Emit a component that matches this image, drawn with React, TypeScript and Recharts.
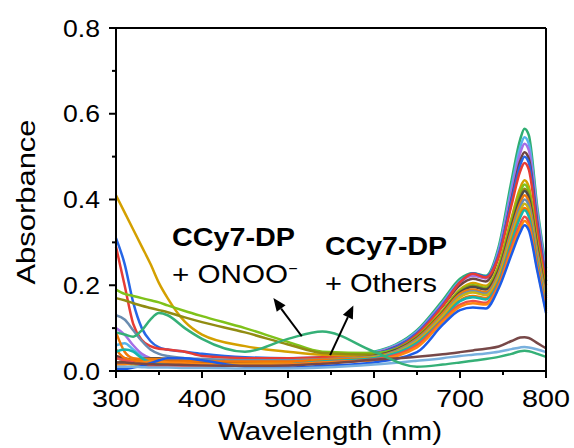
import React from 'react';
import { LineChart, Line, XAxis, YAxis, ReferenceLine } from 'recharts';

// wavelengths (nm) shared by every spectrum
const wavelengths = [300, 310, 320, 330, 340, 350, 360, 380, 400, 450, 500, 540, 600, 650, 680, 700, 715, 730, 745, 760, 770, 775, 780, 790, 800];

// CCy7-DP + others (strong NIR band)
const specGreen = [0.03, 0.025, 0.02, 0.018, 0.016, 0.015, 0.015, 0.016, 0.018, 0.02, 0.025, 0.03, 0.045, 0.095, 0.165, 0.215, 0.228, 0.222, 0.29, 0.445, 0.54, 0.565, 0.55, 0.38, 0.24];
const specSky = [0.06, 0.065, 0.05, 0.035, 0.028, 0.025, 0.022, 0.02, 0.02, 0.022, 0.026, 0.03, 0.043, 0.092, 0.16, 0.21, 0.224, 0.218, 0.283, 0.43, 0.522, 0.545, 0.53, 0.37, 0.23];
const specPurple = [0.1, 0.085, 0.06, 0.04, 0.03, 0.025, 0.022, 0.02, 0.02, 0.02, 0.024, 0.028, 0.042, 0.09, 0.158, 0.207, 0.222, 0.216, 0.278, 0.418, 0.508, 0.53, 0.515, 0.36, 0.22];
const specBrown = [0.035, 0.03, 0.025, 0.02, 0.02, 0.022, 0.025, 0.022, 0.02, 0.018, 0.022, 0.028, 0.04, 0.087, 0.152, 0.2, 0.215, 0.209, 0.268, 0.402, 0.49, 0.51, 0.495, 0.345, 0.21];
const specBlue = [0.31, 0.25, 0.16, 0.1, 0.07, 0.055, 0.05, 0.045, 0.04, 0.032, 0.03, 0.032, 0.04, 0.088, 0.155, 0.207, 0.228, 0.22, 0.272, 0.398, 0.48, 0.5, 0.486, 0.34, 0.21];
const specRed = [0.29, 0.2, 0.11, 0.072, 0.058, 0.052, 0.05, 0.045, 0.035, 0.03, 0.03, 0.032, 0.038, 0.085, 0.152, 0.207, 0.227, 0.218, 0.267, 0.388, 0.466, 0.485, 0.47, 0.33, 0.2];
const specGold = [0.41, 0.37, 0.33, 0.29, 0.25, 0.205, 0.17, 0.115, 0.085, 0.058, 0.045, 0.038, 0.036, 0.08, 0.142, 0.19, 0.205, 0.199, 0.248, 0.358, 0.427, 0.445, 0.43, 0.3, 0.19];
const specLime = [0.19, 0.18, 0.175, 0.17, 0.165, 0.16, 0.153, 0.14, 0.128, 0.1, 0.068, 0.045, 0.042, 0.08, 0.14, 0.188, 0.2, 0.194, 0.243, 0.35, 0.417, 0.435, 0.42, 0.295, 0.185];
const specOlive = [0.17, 0.165, 0.158, 0.152, 0.147, 0.142, 0.137, 0.125, 0.114, 0.09, 0.062, 0.042, 0.038, 0.078, 0.138, 0.185, 0.198, 0.192, 0.238, 0.342, 0.407, 0.425, 0.41, 0.29, 0.18];
const specGray = [0.02, 0.022, 0.025, 0.028, 0.03, 0.03, 0.028, 0.025, 0.022, 0.02, 0.02, 0.025, 0.035, 0.077, 0.137, 0.183, 0.196, 0.19, 0.235, 0.338, 0.402, 0.42, 0.405, 0.285, 0.175];
const specOrange = [0.09, 0.045, 0.03, 0.028, 0.028, 0.028, 0.028, 0.027, 0.026, 0.025, 0.025, 0.028, 0.034, 0.075, 0.135, 0.18, 0.19, 0.184, 0.23, 0.33, 0.392, 0.41, 0.395, 0.278, 0.17];
const specSteel = [0.13, 0.12, 0.095, 0.07, 0.05, 0.04, 0.035, 0.03, 0.028, 0.025, 0.025, 0.027, 0.033, 0.073, 0.13, 0.175, 0.186, 0.18, 0.225, 0.322, 0.382, 0.4, 0.386, 0.27, 0.165];
const specMustard = [0.02, 0.018, 0.015, 0.013, 0.012, 0.012, 0.013, 0.014, 0.015, 0.017, 0.02, 0.025, 0.032, 0.07, 0.128, 0.172, 0.183, 0.177, 0.22, 0.315, 0.373, 0.39, 0.376, 0.262, 0.16];
const specAmber = [0.05, 0.03, 0.025, 0.023, 0.022, 0.022, 0.022, 0.022, 0.022, 0.022, 0.022, 0.026, 0.03, 0.066, 0.122, 0.165, 0.175, 0.17, 0.212, 0.305, 0.363, 0.38, 0.366, 0.255, 0.155];
const specTeal = [0.045, 0.05, 0.045, 0.03, 0.02, 0.015, 0.013, 0.012, 0.012, 0.012, 0.015, 0.022, 0.03, 0.065, 0.12, 0.163, 0.172, 0.167, 0.208, 0.3, 0.358, 0.375, 0.36, 0.25, 0.15];
const specSalmon = [0.03, 0.025, 0.02, 0.015, 0.012, 0.012, 0.012, 0.012, 0.012, 0.012, 0.015, 0.02, 0.027, 0.06, 0.118, 0.155, 0.163, 0.159, 0.202, 0.29, 0.343, 0.36, 0.347, 0.242, 0.145];
const specTangerine = [0.015, 0.015, 0.018, 0.02, 0.022, 0.022, 0.02, 0.018, 0.016, 0.015, 0.015, 0.02, 0.025, 0.055, 0.115, 0.15, 0.158, 0.155, 0.198, 0.282, 0.333, 0.35, 0.338, 0.238, 0.14];
const specRoyal = [0.005, 0.005, 0.008, 0.012, 0.018, 0.025, 0.03, 0.03, 0.025, 0.01, 0.008, 0.012, 0.02, 0.044, 0.108, 0.142, 0.148, 0.146, 0.193, 0.272, 0.323, 0.34, 0.328, 0.232, 0.135];

// weak NIR spectra (incl. CCy7-DP + ONOO-)
const specLowBrown = [0.02, 0.02, 0.018, 0.017, 0.016, 0.015, 0.015, 0.014, 0.013, 0.012, 0.013, 0.017, 0.026, 0.033, 0.039, 0.044, 0.048, 0.052, 0.057, 0.07, 0.078, 0.079, 0.077, 0.065, 0.053];
const specLowBlue = [0.01, 0.01, 0.01, 0.009, 0.008, 0.008, 0.008, 0.007, 0.007, 0.006, 0.006, 0.008, 0.015, 0.024, 0.03, 0.035, 0.038, 0.041, 0.045, 0.051, 0.055, 0.056, 0.055, 0.05, 0.044];
const specOnoo = [0.09, 0.085, 0.08, 0.095, 0.12, 0.135, 0.13, 0.1, 0.075, 0.045, 0.075, 0.092, 0.045, 0.01, 0.015, 0.02, 0.024, 0.028, 0.033, 0.04, 0.046, 0.047, 0.046, 0.04, 0.033];

const series = [
  { key: 'green', values: specGreen, color: '#2fae72' },
  { key: 'sky', values: specSky, color: '#55b4ea' },
  { key: 'purple', values: specPurple, color: '#a56fe6' },
  { key: 'brown', values: specBrown, color: '#6c4442' },
  { key: 'blue', values: specBlue, color: '#2666e6' },
  { key: 'red', values: specRed, color: '#e63c35' },
  { key: 'gold', values: specGold, color: '#d4a000' },
  { key: 'lime', values: specLime, color: '#7fc21a' },
  { key: 'olive', values: specOlive, color: '#918c12' },
  { key: 'gray', values: specGray, color: '#4a4a4a' },
  { key: 'orange', values: specOrange, color: '#f07a0a' },
  { key: 'steel', values: specSteel, color: '#6a8cb0' },
  { key: 'mustard', values: specMustard, color: '#c9b414' },
  { key: 'amber', values: specAmber, color: '#f57505' },
  { key: 'teal', values: specTeal, color: '#15b5ac' },
  { key: 'salmon', values: specSalmon, color: '#ee4f48' },
  { key: 'tangerine', values: specTangerine, color: '#ff8510' },
  { key: 'royal', values: specRoyal, color: '#1c5ce8' },
  { key: 'lowBrown', values: specLowBrown, color: '#774848' },
  { key: 'lowBlue', values: specLowBlue, color: '#78b0de' },
  { key: 'onoo', values: specOnoo, color: '#35b077' },
];

const xTicks = [300, 350, 400, 450, 500, 550, 600, 650, 700, 750, 800];
const yTicks = [0, 0.1, 0.2, 0.3, 0.4, 0.5, 0.6, 0.7, 0.8];

const data = wavelengths.map((w, i) => {
  const row: Record<string, number> = { w };
  series.forEach((s) => {
    row[s.key] = s.values[i];
  });
  return row;
});

const FONT = '"Liberation Sans", Arial, sans-serif';

// plot frame in page pixels (chart margins + axis sizes)
const PLOT = { left: 116, right: 546, top: 28, bottom: 371 };

const isMajorX = (v: number) => Math.round(v) % 100 === 0;
const isMajorY = (v: number) => Math.round(v * 10) % 2 === 0;

const XTick = ({ x, y, payload }: any) => {
  if (!isMajorX(payload.value)) return <g />;
  return (
    <text x={x} y={y + 36} textAnchor="middle" fontSize={24} fontFamily={FONT} fill="#000"
      textLength={48} lengthAdjust="spacingAndGlyphs">
      {payload.value}
    </text>
  );
};

const YTick = ({ x, y, payload }: any) => {
  if (!isMajorY(payload.value)) return <g />;
  return (
    <text x={x - 16} y={y + 8.5} textAnchor="end" fontSize={24} fontFamily={FONT} fill="#000"
      textLength={37} lengthAdjust="spacingAndGlyphs">
      {payload.value.toFixed(1)}
    </text>
  );
};

const Arrow = (props: any) => {
  const { x1, y1, x2, y2 } = props;
  const dx = x2 - x1;
  const dy = y2 - y1;
  const len = Math.sqrt(dx * dx + dy * dy) || 1;
  const ux = dx / len;
  const uy = dy / len;
  const headLen = 13;
  const headW = 5.5;
  const bx = x2 - ux * headLen;
  const by = y2 - uy * headLen;
  return (
    <g>
      <line x1={x1} y1={y1} x2={bx} y2={by} stroke="#000" strokeWidth={2} />
      <polygon
        points={`${x2},${y2} ${bx - uy * headW},${by + ux * headW} ${bx + uy * headW},${by - ux * headW}`}
        fill="#000"
      />
    </g>
  );
};

const TickMarks = () => {
  const xs = xTicks.map((t) => {
    const px = PLOT.left + ((t - 300) / 500) * (PLOT.right - PLOT.left);
    const len = isMajorX(t) ? 7 : 4;
    return <rect key={`x${t}`} x={px - 1} y={PLOT.bottom} width={2} height={len} fill="#000" />;
  });
  const ys = yTicks.map((t) => {
    const py = PLOT.bottom - (t / 0.8) * (PLOT.bottom - PLOT.top);
    const len = isMajorY(t) ? 7 : 4;
    return <rect key={`y${t}`} x={PLOT.left - len} y={py - 1} width={len} height={2} fill="#000" />;
  });
  return <g>{xs}{ys}</g>;
};

export default function App() {
  return (
    <div style={{ position: 'absolute', left: 0, top: 0, width: 574, height: 448, background: '#fff' }}>
      <LineChart width={574} height={448} data={data} margin={{ top: 28, right: 28, bottom: 0, left: 0 }}>
        <XAxis
          dataKey="w"
          type="number"
          domain={[300, 800]}
          ticks={xTicks}
          interval={0}
          height={77}
          tickSize={0}
          tickMargin={0}
          tickLine={false}
          axisLine={{ stroke: '#000', strokeWidth: 2 }}
          tick={XTick}
        />
        <YAxis
          type="number"
          domain={[0, 0.8]}
          ticks={yTicks}
          interval={0}
          width={116}
          tickSize={0}
          tickMargin={0}
          tickLine={false}
          axisLine={{ stroke: '#000', strokeWidth: 2 }}
          tick={YTick}
        />
        {series.map((s) => (
          <Line
            key={s.key}
            dataKey={s.key}
            type="monotone"
            stroke={s.color}
            strokeWidth={2.5}
            dot={false}
            activeDot={false}
            isAnimationActive={false}
          />
        ))}
        <ReferenceLine x={800} stroke="#000" strokeWidth={2} />
        <ReferenceLine y={0.8} stroke="#000" strokeWidth={2} />
        <ReferenceLine segment={[{ x: 516, y: 0.081 }, { x: 483, y: 0.17 }]} shape={Arrow} />
        <ReferenceLine segment={[{ x: 549, y: 0.037 }, { x: 576, y: 0.153 }]} shape={Arrow} />
      </LineChart>
      <svg width={574} height={448} style={{ position: 'absolute', left: 0, top: 0, pointerEvents: 'none' }}>
        <TickMarks />
        <text x={330} y={440} textAnchor="middle" fontSize={25} fontFamily={FONT} fill="#000"
          textLength={224} lengthAdjust="spacingAndGlyphs">
          Wavelength (nm)
        </text>
        <text transform="translate(35,202) rotate(-90)" textAnchor="middle" fontSize={26} fontFamily={FONT} fill="#000"
          textLength={165} lengthAdjust="spacingAndGlyphs">
          Absorbance
        </text>
        <text x={172} y={246} fontSize={25} fontWeight="bold" fontFamily={FONT} fill="#000"
          textLength={123} lengthAdjust="spacingAndGlyphs">
          CCy7-DP
        </text>
        <text x={172} y={283} fontSize={25} fontFamily={FONT} fill="#000"
          textLength={116} lengthAdjust="spacingAndGlyphs">
          + ONOO
        </text>
        <text x={293} y={274} textAnchor="middle" fontSize={16} fontFamily={FONT} fill="#000">
          −
        </text>
        <text x={325} y={255} fontSize={25} fontWeight="bold" fontFamily={FONT} fill="#000"
          textLength={122} lengthAdjust="spacingAndGlyphs">
          CCy7-DP
        </text>
        <text x={325} y={292} fontSize={25} fontFamily={FONT} fill="#000"
          textLength={112} lengthAdjust="spacingAndGlyphs">
          + Others
        </text>
      </svg>
    </div>
  );
}
